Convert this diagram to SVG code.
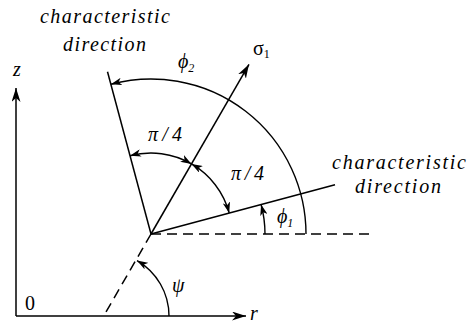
<svg xmlns="http://www.w3.org/2000/svg" width="469" height="326" viewBox="0 0 469 326" font-family="Liberation Serif, Times New Roman, DejaVu Serif, serif">
  <style>
    .ln { stroke: #000; stroke-width: 1.5; fill: none; }
    .dash { stroke: #000; stroke-width: 1.5; fill: none; stroke-dasharray: 10 6; }
    .arc { stroke: #000; stroke-width: 1.4; fill: none; }
    text { font-family: "Liberation Serif", "Times New Roman", "DejaVu Serif", serif; font-size: 20px; fill: #000; }
    .it { font-style: italic; }
    .sub { font-size: 12px; }
  </style>
  <defs>
    <marker id="ax" viewBox="-14 -4.5 14 9" refX="0" refY="0" markerWidth="14" markerHeight="9" markerUnits="userSpaceOnUse" orient="auto-start-reverse">
      <path d="M0,0 L-14,-4.5 L-10,0 L-14,4.5 Z" fill="#000"/>
    </marker>
    <marker id="ah" viewBox="-11 -3.8 11 7.6" refX="0" refY="0" markerWidth="11" markerHeight="7.6" markerUnits="userSpaceOnUse" orient="auto-start-reverse">
      <path d="M0,0 L-11,-3.8 L-8,0 L-11,3.8 Z" fill="#000"/>
    </marker>
  </defs>

  <g id="axes">
    <line class="ln" x1="16" y1="316" x2="16" y2="88" marker-end="url(#ax)"/>
    <line class="ln" x1="16" y1="316" x2="246" y2="316" marker-end="url(#ax)"/>
    <text class="it" x="13" y="76">z</text>
    <text class="it" x="250" y="320">r</text>
    <text x="25" y="310">0</text>
  </g>

  <g id="connectors">
    <line class="dash" x1="151" y1="234" x2="373" y2="234"/>
    <line class="dash" x1="151" y1="234" x2="103.7" y2="316"/>
    <line class="ln" x1="151" y1="234" x2="249" y2="64.3" marker-end="url(#ax)"/>
    <line class="ln" x1="151" y1="234" x2="335" y2="184.7"/>
    <line class="ln" x1="151" y1="234" x2="107.5" y2="71.7"/>
    <path class="arc" d="M306,234 A155,155 0 0 0 110.9,84.3" marker-end="url(#ah)"/>
    <path class="arc" d="M265,234 A114,114 0 0 0 261.1,204.5" marker-end="url(#ah)"/>
    <path class="arc" d="M191.5,163.9 A81,81 0 0 0 130.0,155.8" marker-start="url(#ah)" marker-end="url(#ah)"/>
    <path class="arc" d="M229.2,213.0 A81,81 0 0 0 191.5,163.9" marker-start="url(#ah)" marker-end="url(#ah)"/>
    <path class="arc" d="M169,316 A64,64 0 0 0 137,260.6" marker-end="url(#ah)"/>
  </g>

  <g id="label-char-left">
    <text class="it" x="40" y="23" textLength="130" lengthAdjust="spacing">characteristic</text>
    <text class="it" x="63" y="51" textLength="83" lengthAdjust="spacing">direction</text>
  </g>
  <g id="label-char-right">
    <text class="it" x="332" y="169" textLength="134" lengthAdjust="spacing">characteristic</text>
    <text class="it" x="355" y="193" textLength="86" lengthAdjust="spacing">direction</text>
  </g>
  <g id="label-sigma1">
    <text x="253" y="55">σ<tspan class="sub" dy="3">1</tspan></text>
  </g>
  <g id="label-phi2">
    <text class="it" x="178" y="68">ϕ<tspan class="sub" dy="4">2</tspan></text>
  </g>
  <g id="label-phi1">
    <text class="it" x="277" y="223">ϕ<tspan class="sub" dy="4">1</tspan></text>
  </g>
  <g id="label-pi4-upper">
    <text class="it" x="148" y="141" textLength="34" lengthAdjust="spacing">π/4</text>
  </g>
  <g id="label-pi4-right">
    <text class="it" x="231" y="180" textLength="33" lengthAdjust="spacing">π/4</text>
  </g>
  <g id="label-psi">
    <text class="it" x="172" y="292">ψ</text>
  </g>
</svg>
